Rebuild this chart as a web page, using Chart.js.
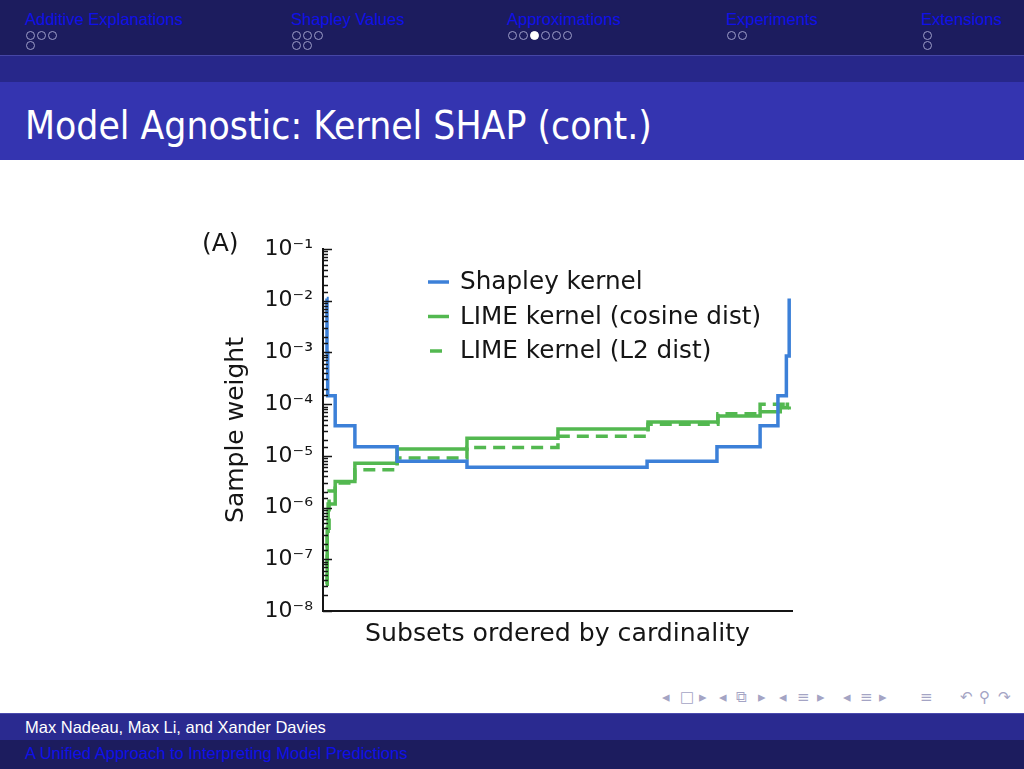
<!DOCTYPE html>
<html lang="en">
<head>
<meta charset="UTF-8">
<title>Model Agnostic: Kernel SHAP (cont.)</title>
<script src="https://cdn.jsdelivr.net/npm/chart.js"></script>
<style>
  body { margin: 0; width: 1024px; height: 769px; background: #fff; position: relative; overflow: hidden; font-family: "Liberation Sans", Arial, sans-serif; }
  .abs { position: absolute; }
  .nav { color: #1010e8; font-size: 16.5px; top: 10px; white-space: nowrap; }
  .dot { position: absolute; width: 7px; height: 7px; border: 1px solid #9c9cc8; border-radius: 50%; box-sizing: content-box; }
  .dot.on { background: #fff; border-color: #fff; }
  .ico { position: absolute; top: 688px; color: #a4a4c4; font-family: "DejaVu Sans"; font-size: 15px; }
  #chartBox { position: absolute; left: 180px; top: 200px; width: 640px; height: 480px; }
</style>
</head>
<body>
<!-- header -->
<div class="abs" style="left:0;top:0;width:1024px;height:55px;background:#1c1c5e"></div>
<div class="abs" style="left:0;top:55px;width:1024px;height:27px;background:#27278a;border-top:1px solid #4646a6;box-sizing:border-box"></div>
<div class="abs" style="left:0;top:82px;width:1024px;height:78px;background:#3434b0"></div>

<div class="abs nav" style="left:25px">Additive Explanations</div>
<div class="abs nav" style="left:291px">Shapley Values</div>
<div class="abs nav" style="left:507px">Approximations</div>
<div class="abs nav" style="left:726px">Experiments</div>
<div class="abs nav" style="left:921px">Extensions</div>
<div id="dots"></div>

<div class="abs" style="left:25px;top:104px;color:#fff;font-family:'DejaVu Sans Condensed','DejaVu Sans';font-stretch:condensed;font-size:38.7px;line-height:44px;white-space:nowrap">Model Agnostic: Kernel SHAP (cont.)</div>

<div id="chartBox"><canvas id="kernel" width="640" height="480"></canvas></div>

<!-- beamer navigation symbols -->
<div id="icons"></div>

<!-- footer -->
<div class="abs" style="left:0;top:713px;width:1024px;height:27px;background:#2a2a90;border-top:1px solid #4a4aae;box-sizing:border-box"></div>
<div class="abs" style="left:0;top:740px;width:1024px;height:29px;background:#1c1c5e"></div>
<div class="abs" style="left:25px;top:718px;color:#fff;font-size:16.5px;white-space:nowrap">Max Nadeau, Max Li, and Xander Davies</div>
<div class="abs" style="left:25px;top:744px;color:#1010e8;font-size:16.5px;white-space:nowrap">A Unified Approach to Interpreting Model Predictions</div>

<script>
// step positions (0..100 along the ordered subsets) and weights
const shapleyX = [0.8, 0.85, 1.0, 2.6, 6.8, 15.8, 30.7, 69.1, 84.0, 93.2, 97.0, 98.8, 99.4];
const shapleyY = [1.1e-2, 1.0e-3, 1.45e-4, 3.8e-5, 1.5e-5, 7.9e-6, 6.0e-6, 7.9e-6, 1.5e-5, 3.8e-5, 1.45e-4, 8.5e-4, 1.1e-2];

const limeCosX = [0.7, 0.9, 1.1, 2.6, 6.8, 15.8, 30.7, 50.1, 69.3, 84.2, 93.2, 97.5, 99.0, 99.4];
const limeCosY = [3.3e-8, 3.5e-7, 1.17e-6, 3.2e-6, 7.2e-6, 1.35e-5, 2.2e-5, 3.3e-5, 4.5e-5, 5.9e-5, 7.1e-5, 8.5e-5, 1.0e-4, 1.0e-4];

const limeL2X = [0.6, 0.9, 1.3, 2.6, 6.8, 15.8, 30.7, 50.1, 69.3, 84.2, 93.2, 99.0, 99.4];
const limeL2Y = [3.3e-8, 4.0e-7, 2.1e-6, 3.0e-6, 5.4e-6, 9.1e-6, 1.45e-5, 2.4e-5, 4.1e-5, 6.5e-5, 1.0e-4, 8.5e-5, 9.0e-5];

const seriesLabels = ['Shapley kernel', 'LIME kernel (cosine dist)', 'LIME kernel (L2 dist)'];
const yTickExponents = [-1, -2, -3, -4, -5, -6, -7, -8];

// header section dots: [x, y, filled]
const dotSpots = [
  [30,35],[41,35],[52,35],[30,45],
  [296,35],[307,35],[318,35],[296,45],[307,45],
  [512,35],[523,35],[534,35,1],[545,35],[556,35],[567,35],
  [731,35],[742,35],
  [927,35],[927,45]
];
const dotsEl = document.getElementById('dots');
dotSpots.forEach(d => {
  const e = document.createElement('div');
  e.className = 'dot' + (d[2] ? ' on' : '');
  e.style.left = (d[0] - 4.5) + 'px';
  e.style.top = (d[1] - 4.5) + 'px';
  dotsEl.appendChild(e);
});

const iconSpots = [[662,'◂'],[680,'□'],[699,'▸'],[719,'◂'],[736,'⧉'],[758,'▸'],[779,'◂'],[797,'≡'],[817,'▸'],[843,'◂'],[860,'≡'],[879,'▸'],[920,'≡'],[960,'↶'],[979,'⚲'],[998,'↷']];
const iconsEl = document.getElementById('icons');
iconSpots.forEach(s => {
  const e = document.createElement('span');
  e.className = 'ico';
  e.style.left = s[0] + 'px';
  e.textContent = s[1];
  iconsEl.appendChild(e);
});

const SUP = {'-': '⁻', '0': '⁰', '1': '¹', '2': '²', '3': '³', '4': '⁴', '5': '⁵', '6': '⁶', '7': '⁷', '8': '⁸', '9': '⁹'};
function isMajor(v) {
  const l = Math.log10(v);
  return Math.abs(l - Math.round(l)) < 1e-6;
}
function powLabel(v) {
  const e = Math.round(Math.log10(v));
  if (!isMajor(v) || yTickExponents.indexOf(e) < 0) return '';
  return '10' + String(e).split('').map(c => SUP[c]).join('');
}

function pts(xs, ys) {
  return xs.map((x, i) => ({x: x, y: ys[i]}));
}

const BLUE = '#3c80d8';
const GREEN = '#53b850';
const INK = '#151515';

const figureDecor = {
  id: 'figureDecor',
  afterDraw(chart) {
    const {ctx, chartArea: a, scales: {y}} = chart;
    ctx.save();
    // inward tick marks on the log axis
    ctx.strokeStyle = INK;
    ctx.lineWidth = 1.5;
    y.ticks.forEach(t => {
      const py = Math.round(y.getPixelForValue(t.value)) + 0.5;
      const len = isMajor(t.value) ? 9 : 5;
      ctx.beginPath();
      ctx.moveTo(a.left, py);
      ctx.lineTo(a.left + len, py);
      ctx.stroke();
    });
    // legend inside the axes
    ctx.font = '24.7px "DejaVu Sans"';
    ctx.textBaseline = 'middle';
    ctx.fillStyle = INK;
    chart.data.datasets.forEach((ds, i) => {
      const ly = a.top + 33 + i * 34.5;
      const lx = a.left + 105;
      ctx.strokeStyle = ds.borderColor;
      ctx.lineWidth = ds.borderWidth;
      if (ds.borderDash) {
        ctx.setLineDash([12, 20]);
        ctx.lineDashOffset = 30;
      } else {
        ctx.setLineDash([]);
      }
      ctx.beginPath();
      ctx.moveTo(lx, ly);
      ctx.lineTo(lx + 21, ly);
      ctx.stroke();
      ctx.fillText(ds.label, lx + 32, ly + 1);
    });
    ctx.setLineDash([]);
    // panel tag
    ctx.font = '25px "DejaVu Sans"';
    ctx.fillText('(A)', 22, 44);
    ctx.restore();
  }
};

new Chart(document.getElementById('kernel'), {
  type: 'line',
  data: {
    datasets: [
      { label: seriesLabels[0], data: pts(shapleyX, shapleyY), borderColor: BLUE, borderWidth: 3.5, stepped: true, pointRadius: 0, fill: false },
      { label: seriesLabels[1], data: pts(limeCosX, limeCosY), borderColor: GREEN, borderWidth: 3.5, stepped: true, pointRadius: 0, fill: false },
      { label: seriesLabels[2], data: pts(limeL2X, limeL2Y), borderColor: GREEN, borderWidth: 3.5, borderDash: [12, 7], stepped: true, pointRadius: 0, fill: false }
    ]
  },
  options: {
    responsive: false,
    animation: false,
    devicePixelRatio: 1,
    layout: { padding: { top: 49, right: 28, left: 0, bottom: 0 } },
    plugins: { legend: { display: false }, tooltip: { enabled: false } },
    scales: {
      x: {
        type: 'linear', min: 0, max: 100,
        grid: { display: false, drawTicks: false },
        border: { display: true, color: INK, width: 2 },
        ticks: { display: false },
        title: { display: true, text: 'Subsets ordered by cardinality', color: INK, font: { family: 'DejaVu Sans', size: 25.2 }, padding: { top: 0, bottom: 30 } },
        afterFit(s) { s.height = 69; }
      },
      y: {
        type: 'logarithmic', min: 1e-8, max: 1e-1,
        grid: { display: false, drawTicks: false, tickLength: 0 },
        border: { display: true, color: INK, width: 2 },
        ticks: { autoSkip: false, padding: 10, color: INK, font: { family: 'DejaVu Sans', size: 22 }, callback: v => powLabel(v) },
        title: { display: true, text: 'Sample weight', color: INK, font: { family: 'DejaVu Sans', size: 25 }, padding: { top: 41, bottom: 0 } },
        afterFit(s) { s.width = 143; }
      }
    }
  },
  plugins: [figureDecor]
});
</script>
</body>
</html>
